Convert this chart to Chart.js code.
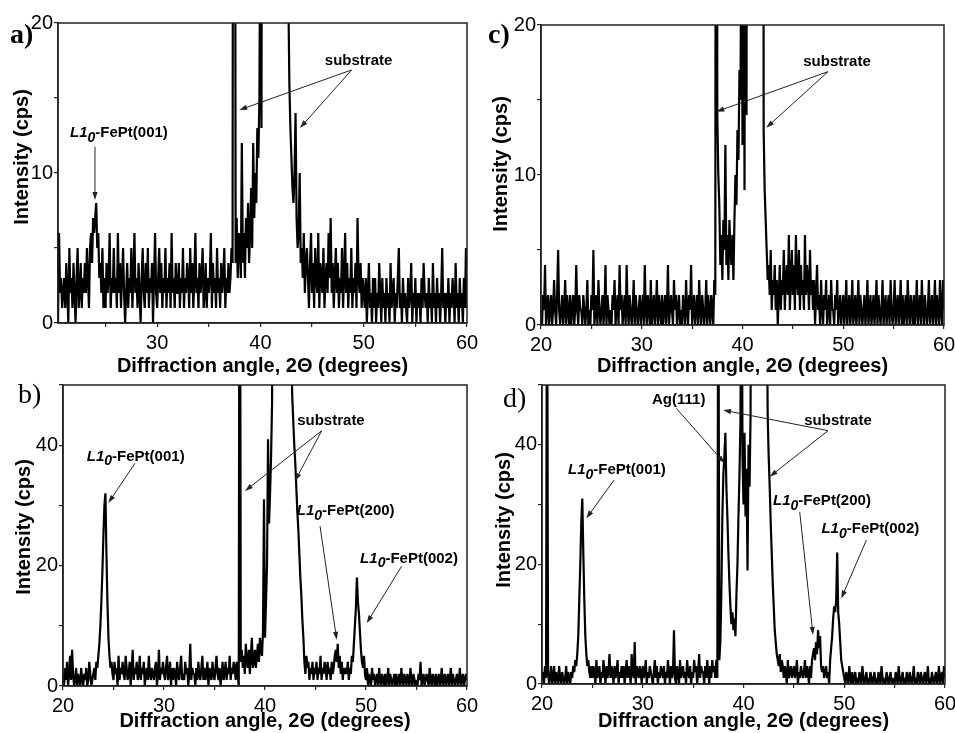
<!DOCTYPE html>
<html lang="en">
<head>
<meta charset="utf-8">
<title>XRD patterns a-d</title>
<script src="https://cdn.jsdelivr.net/npm/chart.js@4.4.1/dist/chart.umd.min.js"></script>
<style>
    html, body { margin: 0; padding: 0; background: #fff; overflow: hidden; }
    body { width: 955px; height: 733px; position: relative; }
    canvas { position: absolute; }
</style>
</head>
<body>
<canvas id="panelA" width="500" height="380" style="left:0px;top:0px"></canvas>
<canvas id="panelC" width="500" height="380" style="left:478px;top:0px"></canvas>
<canvas id="panelB" width="500" height="373" style="left:0px;top:360px"></canvas>
<canvas id="panelD" width="500" height="373" style="left:478px;top:360px"></canvas>
<script>
/**
 * XRD scans, 2-theta from 20 to 60 deg, one count value per 0.1 deg
 */
const scanStart = 20.0;
const scanStep = 0.1;

// a) rows = one degree each (x.0 ... x.9)
const intensityA = [
    2,3,1,4,0,6,2,3,1,2,  3,1,4,2,0,5,2,3,1,4,  2,0,3,5,1,2,4,1,3,2,  4,2,5,3,1,5,6,4,7,6,
    7,8,5,6,3,4,2,5,1,3,  1,4,2,3,6,1,3,2,5,2,  3,1,6,2,4,1,3,5,2,0,  2,4,1,3,2,5,1,3,6,2,
    3,1,4,2,0,3,5,2,1,4,  2,5,1,3,2,4,0,3,6,2,  1,3,5,2,4,1,3,2,5,1,  3,2,4,1,6,2,3,1,4,2,
    2,4,1,3,2,5,1,3,2,4,  3,1,5,2,4,1,3,6,2,3,  1,4,2,3,5,1,2,4,1,3,  2,3,6,1,4,2,3,1,5,2,
    3,1,4,2,3,5,1,3,2,4,  2,3,5,4,80,60,4,7,3,6,  5,3,12,4,6,3,7,5,8,4,  6,9,5,12,7,10,8,13,11,15,
    30,13,60,120,160,190,210,230,240,250,  260,265,270,265,255,240,230,210,190,170,
    150,130,110,90,70,50,35,22,16,13,  11,9,8,10,14,7,5,6,10,4,
    5,3,6,2,4,5,3,1,4,6,  2,4,1,5,3,2,6,1,4,3,  2,5,1,3,4,2,6,3,7,2,  4,1,3,5,2,4,1,3,2,5,
    1,3,6,2,4,1,3,2,5,1,  3,2,4,1,7,3,2,4,1,3,  2,1,3,0,2,4,1,2,0,3,  1,3,0,2,1,4,2,0,3,1,
    2,0,3,1,2,0,4,1,2,3,  0,2,1,3,5,1,2,0,3,1,  2,1,0,3,1,2,4,0,2,1,  3,0,2,1,2,0,3,1,4,2,
    1,2,0,3,1,2,0,4,1,2,  0,3,1,2,0,2,5,1,2,0,  2,1,3,0,2,1,3,2,0,4,  1,2,0,3,1,2,0,3,1,5,
    1
];

// b)
const intensityB = [
    2,0,3,1,4,0,2,5,1,6,  2,0,1,3,0,2,1,0,3,1,  0,2,1,3,0,1,4,2,0,1,  2,3,1,4,3,5,7,10,14,19,
    25,30,32,22,14,8,5,3,4,2,  1,4,2,3,0,5,1,3,2,4,  2,1,5,3,1,2,4,0,3,6,  1,3,2,4,1,2,5,1,3,2,
    4,0,2,3,1,5,2,1,3,2,  1,3,4,0,2,6,1,3,2,4,  2,1,3,5,1,2,4,0,3,1,  3,2,0,4,2,1,3,5,1,2,
    1,4,2,3,0,2,7,1,3,2,  2,0,3,1,4,2,1,3,5,1,  3,1,2,4,0,3,2,1,4,2,  1,3,5,2,1,3,0,2,4,1,
    2,4,1,3,2,5,1,3,2,4,  3,1,4,2,0,120,4,6,3,5,  2,7,4,3,6,2,5,8,3,4,  6,3,5,7,4,8,6,5,9,31,
    8,14,20,41,27,32,38,47,120,200,  260,300,320,330,325,310,290,260,230,200,
    170,140,115,95,75,60,55,48,44,40,  37,33,29,26,22,18,15,11,8,4,
    2,5,3,4,1,3,2,4,1,3,  2,4,1,3,2,5,1,3,2,4,  3,1,4,2,3,1,4,2,3,5,  6,4,7,3,5,2,4,1,3,2,
    3,2,4,1,3,2,5,4,7,10,  13,18,14,12,9,6,4,3,5,2,  1,3,0,2,1,0,3,1,2,0,  1,2,0,3,1,0,2,1,0,2,
    0,1,3,0,2,1,0,1,2,0,  2,0,1,2,0,3,1,0,2,1,  0,2,1,0,3,1,0,2,1,0,  1,0,2,1,4,0,1,2,0,1,
    2,1,0,3,1,0,2,1,0,2,  0,1,2,0,1,3,0,1,2,0,  1,2,0,1,3,0,2,1,0,1,  2,0,1,3,0,1,2,0,1,2,
    1
];

// c)
const intensityC = [
    1,0,2,1,4,0,1,2,0,1,  2,0,1,3,1,0,2,5,1,0,  1,2,0,1,3,0,2,1,0,2,  0,1,2,0,1,4,1,0,2,1,
    1,0,2,1,0,1,3,0,1,0,  2,1,5,0,1,2,0,3,1,0,  1,2,0,1,4,0,2,1,0,1,  0,2,1,3,0,1,2,0,4,1,
    2,0,1,2,0,4,1,0,2,1,  0,1,3,0,2,1,0,1,2,0,  1,2,0,4,1,0,2,1,0,3,  0,1,2,0,1,3,0,2,1,0,
    2,0,1,2,0,1,4,0,1,2,  1,0,3,1,2,0,1,2,0,1,  0,2,1,0,3,1,0,2,1,4,  0,1,2,0,1,2,0,3,1,0,
    2,1,0,1,3,0,2,1,0,2,  1,0,3,2,90,14,10,8,4,6,  3,7,5,12,4,6,3,7,5,4,  6,3,7,10,8,13,11,17,15,30,
    12,45,9,60,14,80,20,120,150,180,  200,210,220,230,225,210,190,170,150,130,
    110,13,9,7,5,3,4,2,5,1,  3,2,4,1,3,0,2,4,1,3,
    2,5,1,3,4,2,6,1,3,5,  2,4,1,6,3,2,5,1,4,2,  3,1,6,2,4,3,1,5,2,3,  1,3,0,2,4,1,2,0,3,1,
    0,2,1,3,0,1,2,0,3,1,  1,0,2,1,3,0,1,2,0,1,  2,0,1,3,0,1,2,0,1,3,  0,1,2,0,1,3,0,2,1,0,
    1,2,0,1,3,0,1,2,0,1,  2,0,1,3,0,2,1,0,1,3,  0,1,2,0,1,2,0,3,1,0,  1,3,0,1,2,0,1,3,0,2,
    0,1,2,0,3,1,0,2,1,0,  2,0,1,3,0,1,2,0,3,1,  0,2,1,0,1,3,0,1,2,0,  1,3,0,2,1,0,3,1,0,3,
    1
];

// d)
const intensityD = [
    1,2,0,3,1,80,2,0,1,3,  0,1,3,0,2,1,0,3,1,0,  2,1,0,1,3,0,2,1,0,2,  1,3,2,4,3,5,8,14,20,27,
    31,22,14,8,5,3,4,2,1,3,  1,3,2,0,4,1,2,3,0,2,  1,4,2,0,3,1,2,5,1,3,  2,0,3,1,2,4,0,2,1,3,
    1,3,0,2,4,1,3,2,0,5,  2,1,7,0,3,2,1,3,2,0,  3,1,2,4,0,2,1,3,2,1,  0,2,4,1,3,0,2,1,3,2,
    1,3,0,2,1,4,2,0,3,1,  2,9,1,0,3,2,0,4,1,2,  3,1,2,0,4,2,1,3,0,2,  1,4,2,3,0,2,5,1,3,2,
    2,0,3,1,4,2,0,3,1,4,  2,3,1,4,1,80,4,7,15,28,  35,38,42,33,28,22,17,13,10,12,  9,11,8,15,20,28,35,44,90,38,
    30,42,28,36,19,40,33,45,120,200,  260,290,300,310,300,285,260,240,210,180,
    150,130,110,70,45,38,33,27,22,17,  13,9,7,5,4,3,5,2,4,3,
    1,3,2,0,4,1,2,3,1,2,  3,1,2,4,0,2,1,3,2,1,  2,4,1,3,2,0,3,1,4,5,  6,4,7,5,9,6,8,3,2,3,
    1,2,3,1,2,0,4,6,8,11,  13,12,14,22,12,10,7,4,3,2,  1,0,2,1,0,3,1,0,2,0,  1,2,0,1,0,2,1,0,3,1,
    0,1,2,0,1,0,2,1,0,1,  2,0,1,0,2,1,0,3,1,0,  1,0,2,1,0,1,2,0,1,0,  0,2,1,0,3,1,0,1,2,0,
    1,0,2,1,0,2,1,0,1,3,  0,1,0,2,1,0,2,1,0,1,  2,0,1,3,0,1,0,2,1,0,  1,2,0,1,3,0,1,2,0,3,
    1
];

// axis ticks (major + minor) and the ticks that carry a label
const xTicks = [20, 25, 30, 35, 40, 45, 50, 55, 60];
const xTickLabels = [20, 30, 40, 50, 60];
const yTicksLow = [0, 5, 10, 15, 20];
const yTickLabelsLow = [0, 10, 20];
const yTicksHigh = [0, 10, 20, 30, 40, 50];
const yTickLabelsHigh = [0, 20, 40];

// peak labels in data units (deg, cps)
const notesA = [
    { lead: '', sub: '', tail: 'substrate', x: 49.5, y: 17.5 },
    { lead: 'L1', sub: '0', tail: '-FePt(001)', x: 26.3, y: 12.67 }
];
const arrowsA = [[48.83, 16.87, 37.95, 14.2], [48.83, 16.87, 43.83, 13.0], [23.98, 11.75, 23.98, 8.2]];

const notesB = [
    { lead: '', sub: '', tail: 'substrate', x: 46.53, y: 44.05 },
    { lead: 'L1', sub: '0', tail: '-FePt(001)', x: 27.2, y: 38.1 },
    { lead: 'L1', sub: '0', tail: '-FePt(200)', x: 47.99, y: 29.05 },
    { lead: 'L1', sub: '0', tail: '-FePt(002)', x: 54.26, y: 21.17 }
];
const arrowsB = [[45.61, 42.4, 38.02, 32.4], [45.61, 42.4, 42.97, 34.05], [27.13, 37.0, 24.49, 30.4],
                 [45.45, 26.55, 47.1, 7.67], [53.53, 19.9, 50.07, 10.45]];

const notesC = [
    { lead: '', sub: '', tail: 'substrate', x: 49.38, y: 17.55 }
];
const arrowsC = [[48.49, 16.89, 37.4, 14.22], [48.49, 16.89, 42.36, 13.15]];

const notesD = [
    { lead: '', sub: '', tail: 'Ag(111)', x: 33.57, y: 47.5 },
    { lead: '', sub: '', tail: 'substrate', x: 49.38, y: 43.98 },
    { lead: 'L1', sub: '0', tail: '-FePt(001)', x: 27.44, y: 35.8 },
    { lead: 'L1', sub: '0', tail: '-FePt(200)', x: 47.79, y: 30.65 },
    { lead: 'L1', sub: '0', tail: '-FePt(002)', x: 52.59, y: 25.87 }
];
const arrowsD = [[33.33, 46.1, 38.13, 36.9], [48.39, 42.36, 37.97, 45.8], [48.39, 42.36, 42.6, 34.67],
                 [27.15, 34.1, 24.4, 27.7], [45.58, 28.8, 46.9, 8.2], [52.2, 24.08, 49.7, 14.3]];

const FONT = '"Liberation Sans", Arial, sans-serif';
const SERIF = '"Liberation Serif", "Times New Roman", serif';

/**
 * scan values -> {x, y} points on the 0.1 deg grid
 */
function toPoints(values) {
    return values.map((v, i) => ({ x: Math.round((scanStart + i * scanStep) * 10) / 10, y: v }));
}

/**
 * one text label, "L1" + subscript "0" in italics where needed
 */
function drawNote(ctx, note, px, py) {
    const fBold = 'bold 15px ' + FONT;
    const fItal = 'italic bold 15px ' + FONT;
    const fSub = 'italic bold 14px ' + FONT;
    ctx.font = fItal;
    const w1 = note.lead ? ctx.measureText(note.lead).width : 0;
    ctx.font = fSub;
    const w2 = note.sub ? ctx.measureText(note.sub).width : 0;
    ctx.font = fBold;
    const w3 = ctx.measureText(note.tail).width;

    let cx = px - (w1 + w2 + w3) / 2;
    ctx.textAlign = 'left';
    ctx.textBaseline = 'middle';
    if (note.lead) { ctx.font = fItal; ctx.fillText(note.lead, cx, py); cx += w1; }
    if (note.sub) { ctx.font = fSub; ctx.fillText(note.sub, cx, py + 5); cx += w2; }
    ctx.font = fBold;
    ctx.fillText(note.tail, cx, py);
}

function drawArrow(ctx, x1, y1, x2, y2) {
    const ang = Math.atan2(y2 - y1, x2 - x1);
    ctx.beginPath();
    ctx.moveTo(x1, y1);
    ctx.lineTo(x2 - Math.cos(ang) * 4, y2 - Math.sin(ang) * 4);
    ctx.stroke();
    ctx.beginPath();
    ctx.moveTo(x2, y2);
    ctx.lineTo(x2 - Math.cos(ang) * 8 + Math.sin(ang) * 2.6, y2 - Math.sin(ang) * 8 - Math.cos(ang) * 2.6);
    ctx.lineTo(x2 - Math.cos(ang) * 8 - Math.sin(ang) * 2.6, y2 - Math.sin(ang) * 8 + Math.cos(ang) * 2.6);
    ctx.closePath();
    ctx.fill();
}

// frame, panel letter, y title, peak labels
const panelDecor = {
    id: 'panelDecor',
    afterDraw(chart, args, opts) {
        const { ctx, chartArea: area, scales: { x, y } } = chart;
        ctx.save();

        ctx.strokeStyle = '#222';
        ctx.lineWidth = 1.5;
        ctx.strokeRect(area.left, area.top, area.right - area.left, area.bottom - area.top);

        ctx.fillStyle = '#000';
        ctx.font = opts.letterFont;
        ctx.textAlign = 'left';
        ctx.textBaseline = 'alphabetic';
        ctx.fillText(opts.letter, opts.letterPos[0], opts.letterPos[1]);

        ctx.save();
        ctx.translate(opts.yTitlePos[0], opts.yTitlePos[1]);
        ctx.rotate(-Math.PI / 2);
        ctx.font = 'bold 20px ' + FONT;
        ctx.textAlign = 'center';
        ctx.textBaseline = 'middle';
        ctx.fillText('Intensity (cps)', 0, 0);
        ctx.restore();

        ctx.strokeStyle = '#222';
        ctx.fillStyle = '#222';
        ctx.lineWidth = 1;
        opts.arrows.forEach(a => {
            drawArrow(ctx, x.getPixelForValue(a[0]), y.getPixelForValue(a[1]),
                           x.getPixelForValue(a[2]), y.getPixelForValue(a[3]));
        });

        ctx.fillStyle = '#000';
        opts.notes.forEach(n => drawNote(ctx, n, x.getPixelForValue(n.x), y.getPixelForValue(n.y)));

        ctx.restore();
    }
};

const panels = [
    { id: 'panelA', values: intensityA, xMin: 20.4, yMax: 20, yTicks: yTicksLow, yLabels: yTickLabelsLow,
      pad: { top: 23, right: 33 }, yAxisWidth: 58, xAxisHeight: 57, xTitlePad: 2,
      letter: 'a)', letterFont: 'bold 28px ' + SERIF, letterPos: [10, 43], yTitlePos: [22, 157],
      notes: notesA, arrows: arrowsA },
    { id: 'panelC', values: intensityC, xMin: 20, yMax: 20, yTicks: yTicksLow, yLabels: yTickLabelsLow,
      pad: { top: 25, right: 34 }, yAxisWidth: 63, xAxisHeight: 55, xTitlePad: 2,
      letter: 'c)', letterFont: 'bold 28px ' + SERIF, letterPos: [10, 43], yTitlePos: [23, 164],
      notes: notesC, arrows: arrowsC },
    { id: 'panelB', values: intensityB, xMin: 20, yMax: 50, yTicks: yTicksHigh, yLabels: yTickLabelsHigh,
      pad: { top: 25, right: 33 }, yAxisWidth: 63, xAxisHeight: 47, xTitlePad: 0,
      letter: 'b)', letterFont: '28px ' + SERIF, letterPos: [18, 43], yTitlePos: [24, 167],
      notes: notesB, arrows: arrowsB },
    { id: 'panelD', values: intensityD, xMin: 20, yMax: 50, yTicks: yTicksHigh, yLabels: yTickLabelsHigh,
      pad: { top: 25, right: 33 }, yAxisWidth: 64, xAxisHeight: 49, xTitlePad: 0,
      letter: 'd)', letterFont: '28px ' + SERIF, letterPos: [25, 47], yTitlePos: [26, 160],
      notes: notesD, arrows: arrowsD }
];

function createPanel(p) {
    const tickFont = { family: FONT, size: 20 };
    new Chart(document.getElementById(p.id), {
        type: 'line',
        data: {
            datasets: [{
                data: toPoints(p.values),
                borderColor: '#000',
                borderWidth: 2.2,
                borderJoinStyle: 'bevel',
                pointRadius: 0,
                tension: 0,
                fill: false
            }]
        },
        options: {
            responsive: false,
            animation: false,
            events: [],
            layout: { padding: { top: p.pad.top, right: p.pad.right, left: 0, bottom: 0 } },
            scales: {
                x: {
                    type: 'linear',
                    min: p.xMin,
                    max: 60,
                    afterBuildTicks: s => { s.ticks = xTicks.filter(v => v >= p.xMin).map(v => ({ value: v })); },
                    afterFit: s => { s.height = p.xAxisHeight; },
                    ticks: {
                        autoSkip: false,
                        maxRotation: 0,
                        padding: 4,
                        color: '#000',
                        font: tickFont,
                        callback: v => xTickLabels.includes(v) ? String(v) : ''
                    },
                    grid: { display: true, drawOnChartArea: false, drawTicks: true, tickLength: 4, color: '#222', lineWidth: 1.2 },
                    border: { display: true, color: '#222', width: 1.5 },
                    title: {
                        display: true,
                        text: 'Diffraction angle, 2\u0398 (degrees)',
                        color: '#000',
                        font: { family: FONT, size: 20, weight: 'bold' },
                        padding: { top: 0, bottom: p.xTitlePad }
                    }
                },
                y: {
                    type: 'linear',
                    min: 0,
                    max: p.yMax,
                    afterBuildTicks: s => { s.ticks = p.yTicks.map(v => ({ value: v })); },
                    afterFit: s => { s.width = p.yAxisWidth; },
                    ticks: {
                        padding: 1,
                        color: '#000',
                        font: tickFont,
                        callback: v => p.yLabels.includes(v) ? String(v) : ''
                    },
                    grid: { display: true, drawOnChartArea: false, drawTicks: true, tickLength: 4, color: '#222', lineWidth: 1.2 },
                    border: { display: true, color: '#222', width: 1.5 }
                }
            },
            plugins: {
                legend: { display: false },
                tooltip: { enabled: false },
                panelDecor: {
                    letter: p.letter, letterFont: p.letterFont, letterPos: p.letterPos,
                    yTitlePos: p.yTitlePos, notes: p.notes, arrows: p.arrows
                }
            }
        },
        plugins: [panelDecor]
    });
}

document.addEventListener('DOMContentLoaded', function() {
    panels.forEach(createPanel);
});
</script>
</body>
</html>
